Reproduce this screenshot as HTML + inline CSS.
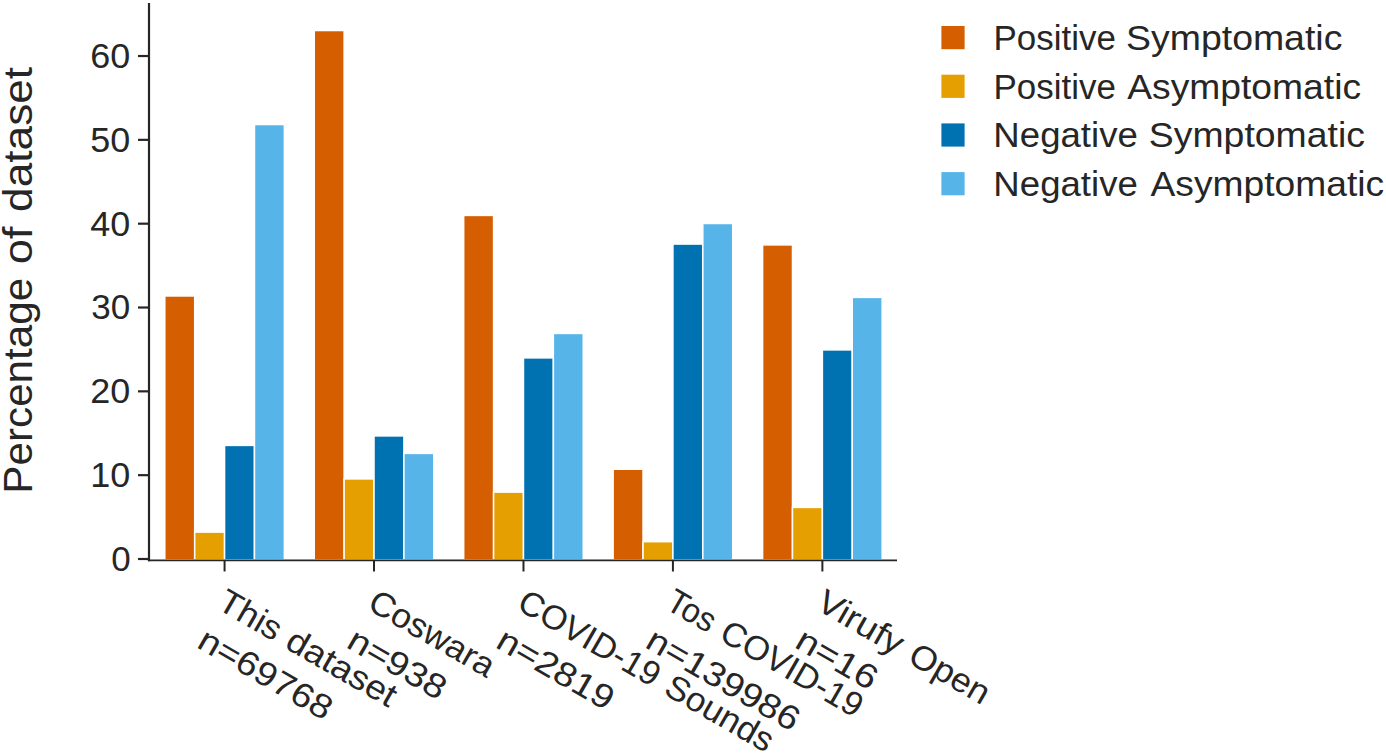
<!DOCTYPE html>
<html><head><meta charset="utf-8"><title>Dataset composition</title><style>
html,body{margin:0;padding:0;background:#fff;overflow:hidden;}
svg{display:block;}
text{font-family:"Liberation Sans", sans-serif;fill:#262626;}
</style></head><body>
<svg width="1386" height="755" viewBox="0 0 1386 755">
<rect width="1386" height="755" fill="#fff"/>
<rect x="164.79" y="295.97" width="29.89" height="263.93" fill="#D55E00" stroke="#fff" stroke-width="1.5"/>
<rect x="194.69" y="532.10" width="29.89" height="27.80" fill="#E69F00" stroke="#fff" stroke-width="1.5"/>
<rect x="224.57" y="445.41" width="29.89" height="114.49" fill="#0072B2" stroke="#fff" stroke-width="1.5"/>
<rect x="254.47" y="124.53" width="29.89" height="435.37" fill="#56B4E9" stroke="#fff" stroke-width="1.5"/>
<rect x="314.25" y="30.53" width="29.89" height="529.37" fill="#D55E00" stroke="#fff" stroke-width="1.5"/>
<rect x="344.13" y="478.92" width="29.89" height="80.98" fill="#E69F00" stroke="#fff" stroke-width="1.5"/>
<rect x="374.02" y="435.92" width="29.89" height="123.98" fill="#0072B2" stroke="#fff" stroke-width="1.5"/>
<rect x="403.91" y="453.39" width="29.89" height="106.51" fill="#56B4E9" stroke="#fff" stroke-width="1.5"/>
<rect x="463.69" y="215.42" width="29.89" height="344.48" fill="#D55E00" stroke="#fff" stroke-width="1.5"/>
<rect x="493.59" y="492.11" width="29.89" height="67.79" fill="#E69F00" stroke="#fff" stroke-width="1.5"/>
<rect x="523.48" y="357.88" width="29.89" height="202.02" fill="#0072B2" stroke="#fff" stroke-width="1.5"/>
<rect x="553.37" y="333.44" width="29.89" height="226.46" fill="#56B4E9" stroke="#fff" stroke-width="1.5"/>
<rect x="613.14" y="469.26" width="29.89" height="90.64" fill="#D55E00" stroke="#fff" stroke-width="1.5"/>
<rect x="643.03" y="541.67" width="29.89" height="18.23" fill="#E69F00" stroke="#fff" stroke-width="1.5"/>
<rect x="672.92" y="244.06" width="29.89" height="315.84" fill="#0072B2" stroke="#fff" stroke-width="1.5"/>
<rect x="702.82" y="223.48" width="29.89" height="336.42" fill="#56B4E9" stroke="#fff" stroke-width="1.5"/>
<rect x="762.59" y="244.90" width="29.89" height="315.00" fill="#D55E00" stroke="#fff" stroke-width="1.5"/>
<rect x="792.48" y="507.40" width="29.89" height="52.50" fill="#E69F00" stroke="#fff" stroke-width="1.5"/>
<rect x="822.38" y="349.90" width="29.89" height="210.00" fill="#0072B2" stroke="#fff" stroke-width="1.5"/>
<rect x="852.26" y="297.40" width="29.89" height="262.50" fill="#56B4E9" stroke="#fff" stroke-width="1.5"/>
<line x1="149" y1="2.9" x2="149" y2="561.2" stroke="#262626" stroke-width="2.2"/>
<line x1="147.9" y1="560.3" x2="897" y2="560.3" stroke="#262626" stroke-width="1.8"/>
<line x1="138" y1="559.00" x2="149" y2="559.00" stroke="#262626" stroke-width="2.2"/>
<line x1="138" y1="475.17" x2="149" y2="475.17" stroke="#262626" stroke-width="2.2"/>
<line x1="138" y1="391.34" x2="149" y2="391.34" stroke="#262626" stroke-width="2.2"/>
<line x1="138" y1="307.51" x2="149" y2="307.51" stroke="#262626" stroke-width="2.2"/>
<line x1="138" y1="223.68" x2="149" y2="223.68" stroke="#262626" stroke-width="2.2"/>
<line x1="138" y1="139.85" x2="149" y2="139.85" stroke="#262626" stroke-width="2.2"/>
<line x1="138" y1="56.02" x2="149" y2="56.02" stroke="#262626" stroke-width="2.2"/>
<line x1="224.57" y1="560.3" x2="224.57" y2="571.5" stroke="#262626" stroke-width="2.0"/>
<line x1="374.02" y1="560.3" x2="374.02" y2="571.5" stroke="#262626" stroke-width="2.0"/>
<line x1="523.48" y1="560.3" x2="523.48" y2="571.5" stroke="#262626" stroke-width="2.0"/>
<line x1="672.92" y1="560.3" x2="672.92" y2="571.5" stroke="#262626" stroke-width="2.0"/>
<line x1="822.38" y1="560.3" x2="822.38" y2="571.5" stroke="#262626" stroke-width="2.0"/>
<rect x="941.4" y="26.00" width="23.2" height="23.2" fill="#D55E00"/>
<rect x="941.4" y="74.70" width="23.2" height="23.2" fill="#E69F00"/>
<rect x="941.4" y="123.40" width="23.2" height="23.2" fill="#0072B2"/>
<rect x="941.4" y="172.10" width="23.2" height="23.2" fill="#56B4E9"/>
<text x="111.30" y="570.84" style="font-size:35.0px">0</text>
<text x="90.21" y="487.01" style="font-size:35.0px" textLength="40.05" lengthAdjust="spacingAndGlyphs">10</text>
<text x="90.24" y="403.18" style="font-size:35.0px" textLength="40.02" lengthAdjust="spacingAndGlyphs">20</text>
<text x="91.30" y="319.35" style="font-size:35.0px">30</text>
<text x="90.27" y="235.52" style="font-size:35.0px" textLength="39.99" lengthAdjust="spacingAndGlyphs">40</text>
<text x="90.24" y="151.69" style="font-size:35.0px" textLength="40.02" lengthAdjust="spacingAndGlyphs">50</text>
<text x="90.24" y="67.86" style="font-size:35.0px" textLength="40.02" lengthAdjust="spacingAndGlyphs">60</text>
<text x="215.69" y="608.08" style="font-size:34.0px" textLength="67.34" lengthAdjust="spacingAndGlyphs" transform="rotate(30 215.69 608.08)">This</text>
<text x="283.42" y="647.18" style="font-size:34.0px" textLength="121.67" lengthAdjust="spacingAndGlyphs" transform="rotate(30 283.42 647.18)">dataset</text>
<text x="195.47" y="646.74" style="font-size:34.0px" textLength="148.69" lengthAdjust="spacingAndGlyphs" transform="rotate(30 195.47 646.74)">n=69768</text>
<text x="365.98" y="608.56" style="font-size:34.0px" textLength="139.46" lengthAdjust="spacingAndGlyphs" transform="rotate(30 365.98 608.56)">Coswara</text>
<text x="344.89" y="646.73" style="font-size:34.0px" textLength="107.96" lengthAdjust="spacingAndGlyphs" transform="rotate(30 344.89 646.73)">n=938</text>
<text x="515.49" y="608.59" style="font-size:34.0px" textLength="157.96" lengthAdjust="spacingAndGlyphs" transform="rotate(30 515.49 608.59)">COVID-19</text>
<text x="662.15" y="693.27" style="font-size:34.0px" textLength="119.55" lengthAdjust="spacingAndGlyphs" transform="rotate(30 662.15 693.27)">Sounds</text>
<text x="494.35" y="646.73" style="font-size:34.0px" textLength="128.84" lengthAdjust="spacingAndGlyphs" transform="rotate(30 494.35 646.73)">n=2819</text>
<text x="664.12" y="608.12" style="font-size:34.0px" textLength="50.85" lengthAdjust="spacingAndGlyphs" transform="rotate(30 664.12 608.12)">Tos</text>
<text x="717.83" y="639.13" style="font-size:34.0px" textLength="158.26" lengthAdjust="spacingAndGlyphs" transform="rotate(30 717.83 639.13)">COVID-19</text>
<text x="643.81" y="646.74" style="font-size:34.0px" textLength="170.63" lengthAdjust="spacingAndGlyphs" transform="rotate(30 643.81 646.74)">n=139986</text>
<text x="814.40" y="608.60" style="font-size:34.0px" textLength="94.12" lengthAdjust="spacingAndGlyphs" transform="rotate(30 814.40 608.60)">Virufy</text>
<text x="906.36" y="661.69" style="font-size:34.0px" textLength="87.29" lengthAdjust="spacingAndGlyphs" transform="rotate(30 906.36 661.69)">Open</text>
<text x="793.21" y="646.71" style="font-size:34.0px" textLength="88.14" lengthAdjust="spacingAndGlyphs" transform="rotate(30 793.21 646.71)">n=16</text>
<text x="31.80" y="493.63" style="font-size:40.5px" textLength="215.87" lengthAdjust="spacingAndGlyphs" transform="rotate(-90 31.80 493.63)">Percentage</text>
<text x="31.80" y="264.34" style="font-size:40.5px" textLength="37.79" lengthAdjust="spacingAndGlyphs" transform="rotate(-90 31.80 264.34)">of</text>
<text x="31.80" y="211.88" style="font-size:40.5px" textLength="145.03" lengthAdjust="spacingAndGlyphs" transform="rotate(-90 31.80 211.88)">dataset</text>
<text x="993.53" y="49.80" style="font-size:34.2px" textLength="122.32" lengthAdjust="spacingAndGlyphs">Positive</text>
<text x="1126.11" y="49.80" style="font-size:34.2px" textLength="216.24" lengthAdjust="spacingAndGlyphs">Symptomatic</text>
<text x="993.53" y="98.50" style="font-size:34.2px" textLength="122.32" lengthAdjust="spacingAndGlyphs">Positive</text>
<text x="1127.20" y="98.50" style="font-size:34.2px" textLength="233.85" lengthAdjust="spacingAndGlyphs">Asymptomatic</text>
<text x="993.39" y="147.20" style="font-size:34.2px" textLength="144.41" lengthAdjust="spacingAndGlyphs">Negative</text>
<text x="1148.81" y="147.20" style="font-size:34.2px" textLength="216.14" lengthAdjust="spacingAndGlyphs">Symptomatic</text>
<text x="993.39" y="195.90" style="font-size:34.2px" textLength="144.41" lengthAdjust="spacingAndGlyphs">Negative</text>
<text x="1150.50" y="195.90" style="font-size:34.2px" textLength="233.65" lengthAdjust="spacingAndGlyphs">Asymptomatic</text>
</svg>
</body></html>
